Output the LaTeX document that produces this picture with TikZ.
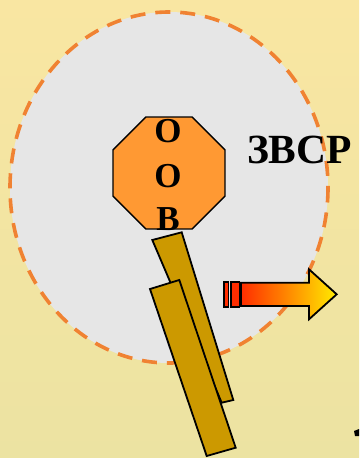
\documentclass[tikz,border=0pt]{standalone}
\usepackage{fontspec}
\setmainfont{Liberation Serif}
\usetikzlibrary{shapes.geometric}
\definecolor{bgtop}{RGB}{249,230,162}
\definecolor{bgbot}{RGB}{236,227,162}
\definecolor{zonefill}{RGB}{230,230,230}
\definecolor{zoneline}{RGB}{240,130,50}
\definecolor{octfill}{RGB}{255,153,51}
\definecolor{barfill}{RGB}{204,153,0}
\definecolor{arrred}{RGB}{255,45,0}
\definecolor{arryel}{RGB}{255,235,0}
\tikzset{
  barbox/.style={fill=barfill, draw=black, line width=1.8pt, line join=miter},
  letter/.style={font=\fontsize{35}{35}\selectfont\bfseries, anchor=base, inner sep=0pt},
}
\begin{document}
\begin{tikzpicture}[x=1pt,y=-1pt]
\useasboundingbox (0,0) rectangle (359,458);
\shade[top color=bgtop, bottom color=bgbot] (0,0) rectangle (359,458);
% zone
\draw[fill=zonefill, draw=zoneline, line width=3.6pt, dash pattern=on 15pt off 10pt] (169,187.5) ellipse [x radius=159, y radius=175.5];
% octagon
\node[regular polygon, regular polygon sides=8, minimum size=121.2pt, inner sep=0pt, outer sep=0pt, fill=octfill, draw=black, line width=1.4pt] (oov) at (169,173) {};
\node[letter] (l1) at (168,142.5) {О};
\node[letter] (l2) at (168,187.5) {О};
\node[letter] (l3) at (168,230) {В};
% label
\node[font=\fontsize{41.5}{41.5}\selectfont\bfseries, anchor=base, inner sep=0pt] (zvsr) at (299.5,163) {ЗВСР};
% bars
\draw[barbox] (152.3,240) -- (181.7,232.3) -- (233.3,400) -- (221.7,402.7) -- cycle;
\draw[barbox] (150,289) -- (179.3,280) -- (235.7,447.7) -- (206.7,456) -- cycle;
% arrow
\draw[fill=arrred, draw=black, line width=1.2pt] (224,282) rectangle (228.5,307);
\draw[fill=arrred, draw=black, line width=1.2pt] (231,282) rectangle (239.3,307);
\draw[left color=arrred, right color=arryel, draw=black, line width=1.8pt, line join=miter]
  (241,282.7) -- (309,282.7) -- (309,269.3) -- (336.7,294.3) -- (309,319.3) -- (309,306) -- (241,306) -- cycle;
% small mark
\fill[black] (354,431) -- (359,429) -- (359,436) -- (355,436) -- cycle;
\end{tikzpicture}
\end{document}
